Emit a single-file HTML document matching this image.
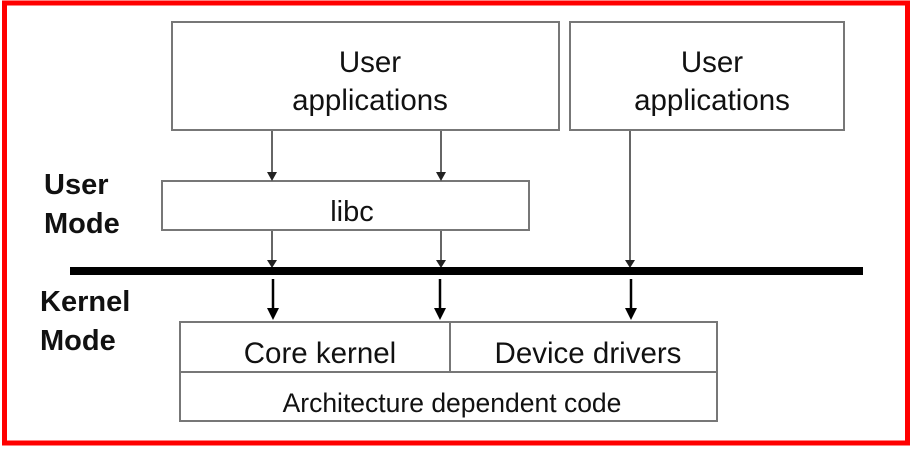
<!DOCTYPE html>
<html><head><style>
html,body{margin:0;padding:0;background:#fff;}
svg{display:block;}
text{font-family:"Liberation Sans",Arial,sans-serif;fill:#111;}
</style></head><body>
<svg width="911" height="452" viewBox="0 0 911 452" xmlns="http://www.w3.org/2000/svg">
<rect x="4.5" y="3" width="903" height="440" fill="none" stroke="#f00" stroke-width="5"/>
<g fill="#fff" stroke="#777" stroke-width="2">
<rect x="172" y="22" width="387" height="108"/>
<rect x="570" y="22" width="274" height="108"/>
<rect x="162" y="181" width="367" height="49"/>
<rect x="180" y="322" width="537" height="99"/>
<line x1="180" y1="372" x2="717" y2="372"/>
<line x1="450" y1="322" x2="450" y2="372"/>
</g>
<g stroke="#666" stroke-width="2">
<line x1="272" y1="131" x2="272" y2="174"/>
<line x1="441" y1="131" x2="441" y2="174"/>
<line x1="272" y1="231" x2="272" y2="262"/>
<line x1="441" y1="231" x2="441" y2="262"/>
<line x1="630" y1="131" x2="630" y2="262"/>
</g>
<g fill="#222">
<polygon points="267,172 277,172 272,181"/>
<polygon points="436,172 446,172 441,181"/>
<polygon points="267,260 277,260 272,268"/>
<polygon points="436,260 446,260 441,268"/>
<polygon points="625,260 635,260 630,268"/>
</g>
<rect x="70" y="267" width="793" height="8" fill="#000"/>
<g stroke="#000" stroke-width="2.5">
<line x1="273" y1="279" x2="273" y2="310"/>
<line x1="440" y1="279" x2="440" y2="310"/>
<line x1="631" y1="279" x2="631" y2="310"/>
</g>
<g fill="#000">
<polygon points="267,308 279,308 273,320"/>
<polygon points="434,308 446,308 440,320"/>
<polygon points="625,308 637,308 631,320"/>
</g>
<g font-size="29.5" text-anchor="middle">
<text x="370" y="72">User</text>
<text x="370" y="110">applications</text>
<text x="712" y="72">User</text>
<text x="712" y="110">applications</text>
<text x="352" y="221" font-size="29">libc</text>
<text x="320" y="363">Core kernel</text>
<text x="588" y="363">Device drivers</text>
<text x="452" y="412" font-size="26.5">Architecture dependent code</text>
</g>
<g font-size="29" font-weight="bold">
<text x="44" y="194">User</text>
<text x="44" y="233">Mode</text>
<text x="40" y="311">Kernel</text>
<text x="40" y="350">Mode</text>
</g>
</svg>
</body></html>
